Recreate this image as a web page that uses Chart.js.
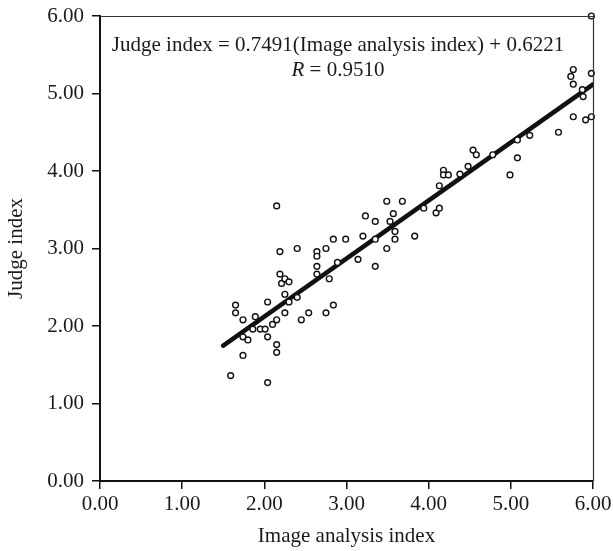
<!DOCTYPE html>
<html>
<head>
<meta charset="utf-8">
<script src="https://cdn.jsdelivr.net/npm/chart.js@4"></script>
<style>
  body { margin: 0; background: #fff; }
  #wrap { width: 613px; height: 551px; }
</style>
</head>
<body>
<div id="wrap"><canvas id="myChart" width="613" height="551"></canvas></div>
<script>
// Image analysis index (x) and judge index (y)
const imageIndex = [
  1.59, 1.65, 1.65, 1.74, 1.74, 1.74, 1.80, 1.86, 1.89, 1.95,
  2.01, 2.04, 2.04, 2.04, 2.10, 2.15, 2.15, 2.15, 2.15, 2.19,
  2.19, 2.21, 2.25, 2.30, 2.25, 2.25, 2.30, 2.40, 2.40, 2.45,
  2.54, 2.64, 2.64, 2.64, 2.64, 2.75, 2.75, 2.79, 2.84, 2.84,
  2.89, 2.99, 3.14, 3.20, 3.23, 3.35, 3.35, 3.35, 3.49, 3.49,
  3.53, 3.57, 3.59, 3.59, 3.68, 3.83, 3.94, 4.09, 4.13, 4.13,
  4.18, 4.18, 4.24, 4.38, 4.48, 4.54, 4.58, 4.78, 4.99, 5.08,
  5.08, 5.23, 5.58, 5.73, 5.76, 5.76, 5.76, 5.87, 5.88, 5.91,
  5.98, 5.98, 5.98
];
const judgeIndex = [
  1.36, 2.27, 2.17, 2.08, 1.86, 1.62, 1.82, 1.96, 2.12, 1.96,
  1.96, 2.31, 1.86, 1.27, 2.02, 2.08, 1.76, 1.66, 3.55, 2.96,
  2.67, 2.55, 2.61, 2.57, 2.41, 2.17, 2.31, 3.00, 2.37, 2.08,
  2.17, 2.96, 2.90, 2.77, 2.67, 3.00, 2.17, 2.61, 3.12, 2.27,
  2.82, 3.12, 2.86, 3.16, 3.42, 3.35, 3.12, 2.77, 3.61, 3.00,
  3.35, 3.45, 3.22, 3.12, 3.61, 3.16, 3.52, 3.46, 3.52, 3.81,
  4.01, 3.95, 3.95, 3.96, 4.06, 4.27, 4.21, 4.21, 3.95, 4.40,
  4.17, 4.46, 4.50, 5.22, 5.31, 5.12, 4.70, 5.05, 4.96, 4.66,
  4.70, 5.26, 6.00
];

// fitted line end points
const fitX = [1.50, 6.00];
const fitY = [1.746, 5.117];

const tickValues = [0, 1, 2, 3, 4, 5, 6];
const equationText = "Judge index = 0.7491(Image analysis index) + 0.6221";
const rText = "= 0.9510";

const serif = "'Liberation Serif', 'DejaVu Serif', serif";
const fontSize = 21;

const frameAndText = {
  id: "frameAndText",
  afterDraw(chart) {
    const { ctx, chartArea } = chart;
    ctx.save();
    ctx.strokeStyle = "#333";
    ctx.lineWidth = 1.2;
    ctx.beginPath();
    ctx.moveTo(chartArea.left, chartArea.top + 0.5);
    ctx.lineTo(chartArea.right + 0.5, chartArea.top + 0.5);
    ctx.lineTo(chartArea.right + 0.5, chartArea.bottom);
    ctx.stroke();

    ctx.fillStyle = "#1a1a1a";
    ctx.font = fontSize + "px " + serif;
    ctx.textAlign = "center";
    ctx.textBaseline = "middle";
    ctx.fillText(equationText, 338, 45);

    ctx.font = "italic " + fontSize + "px " + serif;
    const rw = ctx.measureText("R ").width;
    ctx.font = fontSize + "px " + serif;
    const vw = ctx.measureText(rText).width;
    const start = 338 - (rw + vw) / 2;
    ctx.textAlign = "left";
    ctx.font = "italic " + fontSize + "px " + serif;
    ctx.fillText("R ", start, 70);
    ctx.font = fontSize + "px " + serif;
    ctx.fillText(rText, start + rw, 70);
    ctx.restore();
  }
};

const ctx = document.getElementById("myChart").getContext("2d");
new Chart(ctx, {
  type: "scatter",
  data: {
    datasets: [
      {
        label: "Fit",
        type: "line",
        data: fitX.map((x, i) => ({ x: x, y: fitY[i] })),
        borderColor: "#111",
        borderWidth: 4.5,
        borderCapStyle: "round",
        pointRadius: 0,
        order: 1
      },
      {
        label: "Samples",
        data: imageIndex.map((x, i) => ({ x: x, y: judgeIndex[i] })),
        clip: false,
        pointRadius: 2.9,
        pointBorderWidth: 1.4,
        pointBorderColor: "#111",
        pointBackgroundColor: "#fff",
        order: 0
      }
    ]
  },
  options: {
    responsive: false,
    animation: false,
    layout: { padding: { top: 16, right: 20, left: 0, bottom: 0 } },
    plugins: {
      legend: { display: false },
      tooltip: { enabled: false }
    },
    scales: {
      x: {
        type: "linear",
        min: 0,
        max: 6,
        afterBuildTicks(scale) { scale.ticks = tickValues.map(v => ({ value: v })); },
        afterFit(scale) {
          scale.height = 70;
          scale.paddingLeft = 0;
          scale.paddingRight = 0;
        },
        border: { display: true, color: "#111", width: 2 },
        grid: { drawOnChartArea: false, drawTicks: true, tickLength: 8, color: "#111", lineWidth: 1.5 },
        ticks: {
          color: "#1a1a1a",
          padding: 3,
          font: { family: serif, size: fontSize },
          callback: v => v.toFixed(2)
        },
        title: {
          display: true,
          text: "Image analysis index",
          color: "#1a1a1a",
          font: { family: serif, size: fontSize },
          padding: { top: 2, bottom: 2 }
        }
      },
      y: {
        type: "linear",
        min: 0,
        max: 6,
        afterBuildTicks(scale) { scale.ticks = tickValues.map(v => ({ value: v })); },
        afterFit(scale) {
          scale.width = 100;
          scale.paddingTop = 0;
          scale.paddingBottom = 0;
        },
        border: { display: true, color: "#111", width: 2 },
        grid: { drawOnChartArea: false, drawTicks: true, tickLength: 8, color: "#111", lineWidth: 1.5 },
        ticks: {
          color: "#1a1a1a",
          padding: 8,
          font: { family: serif, size: fontSize },
          callback: v => v.toFixed(2)
        },
        title: {
          display: true,
          text: "Judge index",
          color: "#1a1a1a",
          font: { family: serif, size: fontSize },
          padding: { top: 4, bottom: 4 }
        }
      }
    }
  },
  plugins: [frameAndText]
});
</script>
</body>
</html>
